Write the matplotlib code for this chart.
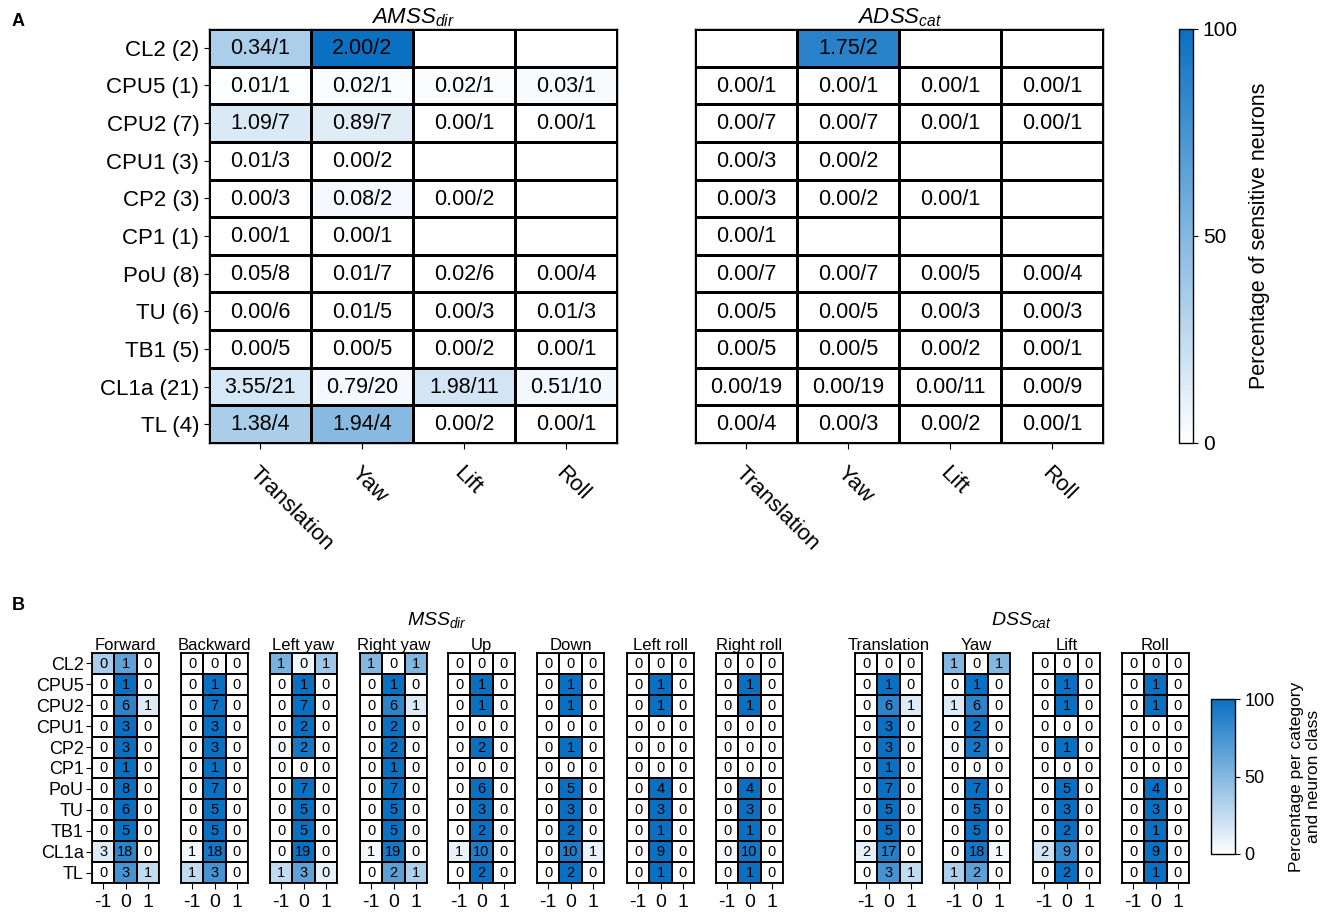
import numpy as np
import matplotlib
matplotlib.use("Agg")
import matplotlib.pyplot as plt
from matplotlib.colors import LinearSegmentedColormap, Normalize
from matplotlib.cm import ScalarMappable

plt.rcParams["font.family"] = ["Liberation Sans", "DejaVu Sans"]
plt.rcParams["mathtext.fontset"] = "custom"
plt.rcParams["mathtext.it"] = "Liberation Sans:italic"
plt.rcParams["mathtext.rm"] = "Liberation Sans"

W, H = 1325, 916
BLUE = "#0A70C2"
CMAP = LinearSegmentedColormap.from_list("white_blue", ["#FFFFFF", BLUE])
NORM = Normalize(0, 100)

# ─── Data ─────────────────────────────────────────────────────────────────────
NEURONS = ["CL2", "CPU5", "CPU2", "CPU1", "CP2", "CP1", "PoU", "TU", "TB1", "CL1a", "TL"]
N_NEURONS = [2, 1, 7, 3, 3, 1, 8, 6, 5, 21, 4]
A_COLS = ["Translation", "Yaw", "Lift", "Roll"]

# panel A: value / number of neurons (None = empty cell)
AMSS_VAL = [[0.34, 2.00, None, None], [0.01, 0.02, 0.02, 0.03], [1.09, 0.89, 0.00, 0.00],
            [0.01, 0.00, None, None], [0.00, 0.08, 0.00, None], [0.00, 0.00, None, None],
            [0.05, 0.01, 0.02, 0.00], [0.00, 0.01, 0.00, 0.01], [0.00, 0.00, 0.00, 0.00],
            [3.55, 0.79, 1.98, 0.51], [1.38, 1.94, 0.00, 0.00]]
AMSS_N = [[1, 2, None, None], [1, 1, 1, 1], [7, 7, 1, 1], [3, 2, None, None], [3, 2, 2, None],
          [1, 1, None, None], [8, 7, 6, 4], [6, 5, 3, 3], [5, 5, 2, 1], [21, 20, 11, 10], [4, 4, 2, 1]]
ADSS_VAL = [[None, 1.75, None, None], [0.00, 0.00, 0.00, 0.00], [0.00, 0.00, 0.00, 0.00],
            [0.00, 0.00, None, None], [0.00, 0.00, 0.00, None], [0.00, None, None, None],
            [0.00, 0.00, 0.00, 0.00], [0.00, 0.00, 0.00, 0.00], [0.00, 0.00, 0.00, 0.00],
            [0.00, 0.00, 0.00, 0.00], [0.00, 0.00, 0.00, 0.00]]
ADSS_N = [[None, 2, None, None], [1, 1, 1, 1], [7, 7, 1, 1], [3, 2, None, None], [3, 2, 1, None],
          [1, None, None, None], [7, 7, 5, 4], [5, 5, 3, 3], [5, 5, 2, 1], [19, 19, 11, 9], [4, 3, 2, 1]]

# panel B: counts for direction -1 / 0 / 1, one row per neuron class
B_DIRS = [-1, 0, 1]
FORWARD = [[0, 1, 0], [0, 1, 0], [0, 6, 1], [0, 3, 0], [0, 3, 0], [0, 1, 0], [0, 8, 0], [0, 6, 0], [0, 5, 0], [3, 18, 0], [0, 3, 1]]
BACKWARD = [[0, 0, 0], [0, 1, 0], [0, 7, 0], [0, 3, 0], [0, 3, 0], [0, 1, 0], [0, 7, 0], [0, 5, 0], [0, 5, 0], [1, 18, 0], [1, 3, 0]]
LEFT_YAW = [[1, 0, 1], [0, 1, 0], [0, 7, 0], [0, 2, 0], [0, 2, 0], [0, 0, 0], [0, 7, 0], [0, 5, 0], [0, 5, 0], [0, 19, 0], [1, 3, 0]]
RIGHT_YAW = [[1, 0, 1], [0, 1, 0], [0, 6, 1], [0, 2, 0], [0, 2, 0], [0, 1, 0], [0, 7, 0], [0, 5, 0], [0, 5, 0], [1, 19, 0], [0, 2, 1]]
UP = [[0, 0, 0], [0, 1, 0], [0, 1, 0], [0, 0, 0], [0, 2, 0], [0, 0, 0], [0, 6, 0], [0, 3, 0], [0, 2, 0], [1, 10, 0], [0, 2, 0]]
DOWN = [[0, 0, 0], [0, 1, 0], [0, 1, 0], [0, 0, 0], [0, 1, 0], [0, 0, 0], [0, 5, 0], [0, 3, 0], [0, 2, 0], [0, 10, 1], [0, 2, 0]]
LEFT_ROLL = [[0, 0, 0], [0, 1, 0], [0, 1, 0], [0, 0, 0], [0, 0, 0], [0, 0, 0], [0, 4, 0], [0, 3, 0], [0, 1, 0], [0, 9, 0], [0, 1, 0]]
RIGHT_ROLL = [[0, 0, 0], [0, 1, 0], [0, 1, 0], [0, 0, 0], [0, 0, 0], [0, 0, 0], [0, 4, 0], [0, 3, 0], [0, 1, 0], [0, 10, 0], [0, 1, 0]]
TRANSLATION = [[0, 0, 0], [0, 1, 0], [0, 6, 1], [0, 3, 0], [0, 3, 0], [0, 1, 0], [0, 7, 0], [0, 5, 0], [0, 5, 0], [2, 17, 0], [0, 3, 1]]
YAW = [[1, 0, 1], [0, 1, 0], [1, 6, 0], [0, 2, 0], [0, 2, 0], [0, 0, 0], [0, 7, 0], [0, 5, 0], [0, 5, 0], [0, 18, 1], [1, 2, 0]]
LIFT = [[0, 0, 0], [0, 1, 0], [0, 1, 0], [0, 0, 0], [0, 1, 0], [0, 0, 0], [0, 5, 0], [0, 3, 0], [0, 2, 0], [2, 9, 0], [0, 2, 0]]
ROLL = [[0, 0, 0], [0, 1, 0], [0, 1, 0], [0, 0, 0], [0, 0, 0], [0, 0, 0], [0, 4, 0], [0, 3, 0], [0, 1, 0], [0, 9, 0], [0, 1, 0]]

MSS_TITLES = ["Forward", "Backward", "Left yaw", "Right yaw", "Up", "Down", "Left roll", "Right roll"]
MSS_DATA = [FORWARD, BACKWARD, LEFT_YAW, RIGHT_YAW, UP, DOWN, LEFT_ROLL, RIGHT_ROLL]
DSS_TITLES = ["Translation", "Yaw", "Lift", "Roll"]
DSS_DATA = [TRANSLATION, YAW, LIFT, ROLL]

# percentages that differ from count / row total
PCT_OVERRIDE = {
    ("Forward", 0): [35, 65, 0],
    ("Left yaw", 0): [55, 5, 40],
    ("Left yaw", 4): [5, 95, 0],
    ("Left yaw", 10): [25, 65, 10],
    ("Right roll", 9): [4, 96, 0],
    ("Yaw", 4): [5, 95, 0],
}


def px_axes(fig, x0, y0, x1, y1):
    return fig.add_axes([x0 / W, 1 - y1 / H, (x1 - x0) / W, (y1 - y0) / H])


def draw_heat(ax, pct, labels, fs, lw):
    nr, nc = pct.shape
    ax.pcolormesh(np.arange(nc + 1), np.arange(nr + 1), pct, cmap=CMAP, norm=NORM,
                  edgecolors="black", linewidth=lw)
    ax.set_xlim(0, nc)
    ax.set_ylim(nr, 0)
    for i in range(nr):
        for j in range(nc):
            if labels[i][j]:
                ax.text(j + 0.5, i + 0.52, labels[i][j], ha="center", va="center", fontsize=fs)
    for s in ax.spines.values():
        s.set_linewidth(lw)


fig = plt.figure(figsize=(W / 100, H / 100), dpi=100)

# ─── Panel A ──────────────────────────────────────────────────────────────────
for k, (vals, ns, x0, title) in enumerate([(AMSS_VAL, AMSS_N, 209, r"$AMSS_{dir}$"),
                                            (ADSS_VAL, ADSS_N, 695, r"$ADSS_{cat}$")]):
    ax = px_axes(fig, x0, 29, x0 + 408, 443)
    pct = np.array([[0 if v is None else 100 * v / n for v, n in zip(rv, rn)]
                    for rv, rn in zip(vals, ns)])
    labels = [["" if v is None else f"{v:.2f}/{n}" for v, n in zip(rv, rn)]
              for rv, rn in zip(vals, ns)]
    draw_heat(ax, pct, labels, 15.5, 1.0)
    ax.set_xticks(np.arange(4) + 0.5)
    ax.set_xticklabels(A_COLS, rotation=-45, ha="left", va="top", rotation_mode="anchor",
                       fontsize=16)
    ax.set_yticks(np.arange(len(NEURONS)) + 0.5)
    if k == 0:
        ax.set_yticklabels([f"{nm} ({n})" for nm, n in zip(NEURONS, N_NEURONS)], fontsize=16)
    else:
        ax.set_yticklabels([])
        ax.tick_params(axis="y", length=0)
    ax.tick_params(axis="x", length=4, pad=10)
    ax.set_title(title, fontsize=16, pad=2)

cax = px_axes(fig, 1179, 29, 1193, 443)
cb = fig.colorbar(ScalarMappable(norm=NORM, cmap=CMAP), cax=cax, ticks=[0, 50, 100])
cb.outline.set_linewidth(1.0)
cb.ax.tick_params(labelsize=15)
cb.set_label("Percentage of sensitive neurons", fontsize=15.5, labelpad=8)

# ─── Panel B ──────────────────────────────────────────────────────────────────
B_LEFTS = [92, 181, 270, 360, 448, 537, 627, 716, 855, 943, 1033, 1122]
for k, (title, counts) in enumerate(zip(MSS_TITLES + DSS_TITLES, MSS_DATA + DSS_DATA)):
    c = np.array(counts, dtype=float)
    tot = c.sum(axis=1, keepdims=True)
    pct = np.divide(100 * c, tot, out=np.zeros_like(c), where=tot > 0)
    for (t, row), v in PCT_OVERRIDE.items():
        if t == title:
            pct[row] = v
    labels = [[str(v) for v in r] for r in counts]
    x0 = B_LEFTS[k]
    ax = px_axes(fig, x0, 653, x0 + 67, 883)
    draw_heat(ax, pct, labels, 10.5, 1.3)
    ax.set_xticks(np.arange(3) + 0.5)
    ax.set_xticklabels(B_DIRS, fontsize=14)
    ax.tick_params(axis="x", length=4, pad=4)
    ax.set_yticks(np.arange(len(NEURONS)) + 0.5)
    if k == 0:
        ax.set_yticklabels(NEURONS, fontsize=13)
        ax.tick_params(axis="y", length=4, pad=2)
    else:
        ax.set_yticklabels([])
        ax.tick_params(axis="y", length=0)
    ax.set_title(title, fontsize=12, pad=2)

fig.text(437 / W, 1 - 620 / H, r"$MSS_{dir}$", ha="center", va="center", fontsize=14)
fig.text(1021 / W, 1 - 620 / H, r"$DSS_{cat}$", ha="center", va="center", fontsize=14)

cax2 = px_axes(fig, 1211, 699, 1235, 854)
cb2 = fig.colorbar(ScalarMappable(norm=NORM, cmap=CMAP), cax=cax2, ticks=[0, 50, 100])
cb2.outline.set_linewidth(1.0)
cb2.ax.tick_params(labelsize=13)
cb2.set_label("Percentage per category\nand neuron class", fontsize=12.5, labelpad=10)

fig.text(12 / W, 1 - 22 / H, "A", fontsize=13, fontweight="bold", ha="left", va="center")
fig.text(12 / W, 1 - 605 / H, "B", fontsize=13, fontweight="bold", ha="left", va="center")

fig.savefig("out.png", dpi=100, facecolor="white")
